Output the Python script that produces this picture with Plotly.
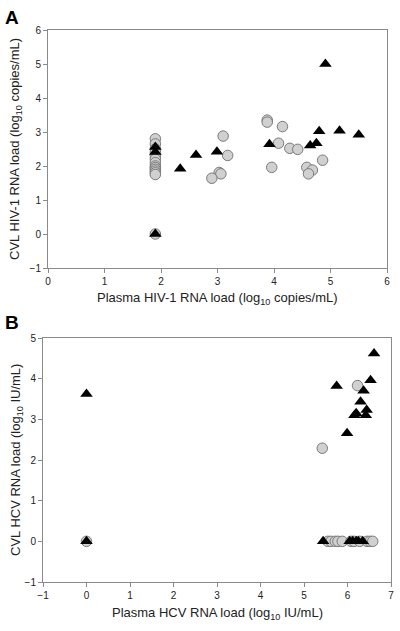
import plotly.graph_objects as go

# Panel A: HIV-1
a_circ_x = [1.9, 1.9, 1.9, 1.9, 1.9, 1.9, 1.9, 1.9, 1.9, 1.9, 1.9, 1.9, 1.9, 1.9,
            3.10, 3.18, 3.03, 3.06, 2.90, 3.88, 3.88, 4.15, 4.08, 4.28, 4.42,
            3.96, 4.58, 4.68, 4.61, 4.86]
a_circ_y = [0.0, 2.80, 2.65, 2.5, 2.4, 2.3, 2.2, 2.1, 2.0, 1.95, 1.9, 1.85, 1.8, 1.75,
            2.88, 2.31, 1.81, 1.77, 1.64, 3.35, 3.29, 3.16, 2.67, 2.52, 2.49,
            1.96, 1.96, 1.88, 1.77, 2.17]
a_tri_x = [1.9, 1.9, 1.9, 2.34, 2.62, 2.99, 3.92, 4.64, 4.75, 4.80, 4.91, 5.16, 5.50]
a_tri_y = [0.0, 2.56, 2.41, 1.92, 2.32, 2.42, 2.64, 2.60, 2.67, 3.02, 5.0, 3.04, 2.92]

# Panel B: HCV
b_circ_x = [0.0, 6.23, 5.42, 5.55, 5.62, 5.72, 5.78, 5.88, 6.08, 6.15, 6.28, 6.45, 6.52, 6.58]
b_circ_y = [0.0, 3.83, 2.29, 0, 0, 0, 0, 0, 0, 0, 0, 0, 0, 0]
b_tri_x = [0.0, 0.0, 6.61, 6.53, 5.75, 6.37, 6.30, 6.20, 6.16, 6.44, 6.42, 5.99,
           5.44, 6.05, 6.12, 6.20, 6.25, 6.35]
b_tri_y = [0.0, 3.62, 4.62, 3.96, 3.82, 3.70, 3.43, 3.15, 3.10, 3.23, 3.10, 2.66,
           0, 0, 0, 0, 0, 0]

W, H = 400, 631
circ_style = dict(symbol="circle", size=10.5, color="#d0d0d0", line=dict(color="#7a7a7a", width=1))
tri_style = dict(symbol="triangle-up", size=11, color="black", line=dict(width=0))

fig = go.Figure()
fig.add_trace(go.Scatter(x=a_circ_x, y=a_circ_y, mode="markers", marker=circ_style, xaxis="x", yaxis="y", showlegend=False))
fig.add_trace(go.Scatter(x=a_tri_x, y=a_tri_y, mode="markers", marker=tri_style, xaxis="x", yaxis="y", showlegend=False))
fig.add_trace(go.Scatter(x=b_circ_x, y=b_circ_y, mode="markers", marker=circ_style, xaxis="x2", yaxis="y2", showlegend=False))
fig.add_trace(go.Scatter(x=b_tri_x, y=b_tri_y, mode="markers", marker=tri_style, xaxis="x2", yaxis="y2", showlegend=False))

axis_common = dict(showgrid=False, zeroline=False, showline=True, linecolor="#8a8a8a", linewidth=1,
                   mirror=True, ticks="outside", ticklen=4, tickcolor="#8a8a8a", automargin=False,
                   ticklabeloverflow="allow",
                   tickfont=dict(family="Arial", size=10, color="#222"))

fig.update_layout(
    width=W, height=H, margin=dict(l=0, r=0, t=0, b=0, autoexpand=False),
    paper_bgcolor="white", plot_bgcolor="white",
    xaxis=dict(domain=[48 / W, 387 / W], range=[0, 6], dtick=1, anchor="y", **axis_common),
    yaxis=dict(domain=[1 - 268 / H, 1 - 30 / H], range=[-1, 6], dtick=1, anchor="x", **axis_common),
    xaxis2=dict(domain=[43 / W, 391 / W], range=[-1, 7], dtick=1, anchor="y2", **axis_common),
    yaxis2=dict(domain=[1 - 582 / H, 1 - 338 / H], range=[-1, 5], dtick=1, anchor="x2", **axis_common),
)

title_font = dict(family="Arial", size=13, color="#222")
ann = [
    dict(text="<b>A</b>", x=12 / W, y=1 - 17 / H, font=dict(family="Arial", size=19, color="black")),
    dict(text="<b>B</b>", x=12 / W, y=1 - 322 / H, font=dict(family="Arial", size=19, color="black")),
    dict(text="Plasma HIV-1 RNA load (log<sub>10</sub> copies/mL)", x=217 / W, y=1 - 298 / H, font=title_font),
    dict(text="Plasma HCV RNA load (log<sub>10</sub> IU/mL)", x=217 / W, y=1 - 613 / H, font=title_font),
    dict(text="CVL HIV-1 RNA load (log<sub>10</sub> copies/mL)", x=16 / W, y=1 - 149 / H, font=title_font, textangle=-90),
    dict(text="CVL HCV RNA load (log<sub>10</sub> IU/mL)", x=16 / W, y=1 - 460 / H, font=title_font, textangle=-90),
]
for a in ann:
    a.update(xref="paper", yref="paper", showarrow=False, xanchor="center", yanchor="middle")
    fig.add_annotation(**a)

fig.write_html("out.html", config={"displayModeBar": False},
               post_script="document.body.style.margin='0';document.body.style.overflow='hidden';")
